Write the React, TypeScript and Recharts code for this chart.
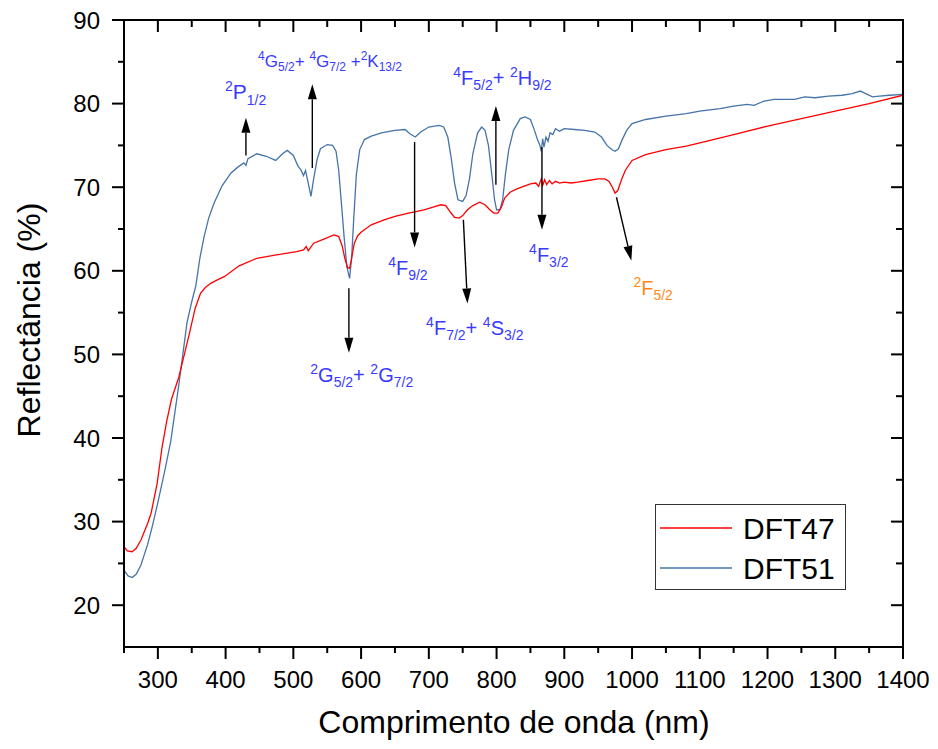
import React from 'react';
import { LineChart, Line, XAxis, YAxis, ReferenceLine, ReferenceDot, Legend, Label } from 'recharts';

const FONT = 'Liberation Sans, Arial, Helvetica, sans-serif';
const BLUE_LINE = '#4674a8';
const RED_LINE = '#ff0000';
const LABEL_BLUE = '#3a3aff';
const LABEL_ORANGE = '#ff8a1a';

// DFT47 (red): [wavelength nm, reflectance %]
const dft47: [number, number][] = [
  [250, 27], [255, 26.5], [262, 26.4], [268, 26.8], [275, 27.8], [285, 29.8], [290, 31], [299, 34.6],
  [306, 38.8], [313, 42], [320, 44.6], [331, 47.3], [340, 50.3], [346, 52.3], [355, 55.5], [363, 57.3],
  [370, 58], [378, 58.5], [390, 59], [398, 59.3], [420, 60.6], [446, 61.5], [475, 61.9], [505, 62.3],
  [515, 62.5], [519, 62.9], [522, 62.4], [530, 63.3], [545, 63.8], [560, 64.3], [567, 64.1],
  [572, 63], [576, 61.5], [580, 60.4], [583, 60.3], [586, 61.5], [590, 63.3], [595, 64.2], [600, 64.6],
  [615, 65.5], [634, 66.1], [650, 66.5], [670, 66.9], [693, 67.3], [705, 67.6], [718, 67.9], [725, 67.8],
  [732, 67], [738, 66.4], [745, 66.3], [750, 66.6], [757, 67.3], [765, 67.8], [775, 68.2], [783, 67.9],
  [790, 67.3], [796, 66.9], [802, 66.9], [807, 67.6], [812, 68.7], [820, 69.4], [830, 69.8], [840, 70.1],
  [850, 70.4], [858, 70.5], [862, 70.1], [866, 71], [868, 70.2], [871, 70.9], [874, 70.3], [878, 70.8],
  [882, 70.4], [887, 70.7], [893, 70.5], [900, 70.6], [910, 70.5], [920, 70.6], [935, 70.8], [950, 71],
  [960, 71], [966, 70.7], [971, 70], [975, 69.3], [979, 69.6], [984, 70.8], [990, 72], [1000, 73.2],
  [1020, 73.9], [1050, 74.5], [1080, 74.9], [1100, 75.3], [1150, 76.3], [1200, 77.3], [1250, 78.2],
  [1300, 79.1], [1350, 80], [1400, 81],
];

// DFT51 (blue): [wavelength nm, reflectance %]
const dft51: [number, number][] = [
  [250, 24.2], [256, 23.5], [262, 23.3], [268, 23.7], [275, 24.8], [285, 27.3], [292, 29.5], [300, 32.3],
  [310, 36], [319, 39.6], [331, 46.4], [343, 53.8], [350, 56.3], [356, 58.2], [362, 61.5], [368, 64],
  [375, 66.3], [383, 68.1], [395, 70.2], [408, 71.7], [418, 72.4], [427, 72.9], [430, 72.6], [433, 73.4],
  [446, 74], [460, 73.7], [474, 73.2], [484, 74], [491, 74.4], [500, 73.8], [507, 72.5], [511, 72.1],
  [515, 71.4], [518, 72], [522, 70.5], [526, 68.9], [530, 71], [535, 73.3], [540, 74.6],
  [550, 75.1], [558, 75], [563, 74.3], [567, 72], [571, 68], [575, 64], [579, 60.5],
  [583, 59.1], [586, 61.5], [589, 66], [593, 71.5], [598, 74.5], [605, 75.7], [615, 76.1], [630, 76.5],
  [650, 76.8], [665, 76.9], [672, 76.4], [680, 76], [688, 76.6], [700, 77.2], [715, 77.4], [722, 77.2],
  [728, 76], [733, 73.5], [738, 70.5], [743, 68.5], [750, 68.3], [755, 69], [760, 71], [765, 74],
  [772, 76.5], [778, 77.2], [783, 76.8], [788, 75], [793, 71.5], [797, 68.5], [800, 67.3], [805, 67.3],
  [809, 68.5], [813, 71.5], [818, 74.5], [825, 76.8], [835, 78.2], [842, 78.4], [850, 78.1], [856, 76.8],
  [860, 75.8], [864, 75], [866, 74.3], [868, 75.8], [870, 74.8], [873, 76], [876, 75.5], [879, 76.5],
  [883, 76.3], [887, 77], [893, 76.7], [900, 77], [915, 76.9], [930, 76.8], [945, 76.6], [955, 76],
  [963, 75], [970, 74.5], [975, 74.3], [980, 74.6], [985, 75.6], [992, 76.8], [1000, 77.6], [1020, 78.1],
  [1050, 78.5], [1080, 78.8], [1100, 79.1], [1130, 79.4], [1150, 79.7], [1170, 79.9], [1180, 79.8],
  [1195, 80.3], [1210, 80.5], [1240, 80.5], [1255, 80.8], [1270, 80.7], [1290, 80.9], [1310, 81],
  [1325, 81.2], [1337, 81.5], [1345, 81.2], [1355, 80.8], [1365, 80.9], [1380, 81], [1400, 81.1],
];

const xTicks = [250, 300, 350, 400, 450, 500, 550, 600, 650, 700, 750, 800, 850, 900, 950, 1000, 1050, 1100, 1150, 1200, 1250, 1300, 1350, 1400];
const xMajor = [300, 400, 500, 600, 700, 800, 900, 1000, 1100, 1200, 1300, 1400];
const yTicks = [20, 25, 30, 35, 40, 45, 50, 55, 60, 65, 70, 75, 80, 85, 90];
const yMajor = [20, 30, 40, 50, 60, 70, 80, 90];
const X_MIN = 250;
const X_MAX = 1400;
const Y_MIN = 15;
const Y_MAX = 90;

// chart layout
const W = 938;
const H = 749;
const MARGIN = { top: 20, right: 35, bottom: 42, left: 64 };
const Y_AXIS_W = 60;
const X_AXIS_H = 60;
const PLOT_L = MARGIN.left + Y_AXIS_W;
const PLOT_R = W - MARGIN.right;
const PLOT_T = MARGIN.top;
const PLOT_B = H - MARGIN.bottom - X_AXIS_H;

type Seg = [string, 'n' | 'sup' | 'sub'];

// arrows: [fromX, fromY, toX, toY] in data units
const arrows: [number, number, number, number][] = [
  [430, 73.8, 430, 78.3],
  [528, 72.3, 528, 82.3],
  [679, 75.4, 679, 62.8],
  [582, 57.9, 582, 50.2],
  [751, 66.1, 757, 56.1],
  [799, 70.3, 799, 79.7],
  [867, 74.8, 867, 64.9],
  [977, 68.8, 999, 61.2],
];

// labels: baseline position in data units, text segments, sizes, colour
const labels: { x: number; y: number; segs: Seg[]; big: number; small: number; color: string }[] = [
  { x: 399, y: 80.5, segs: [['2', 'sup'], ['P', 'n'], ['1/2', 'sub']], big: 21, small: 14, color: LABEL_BLUE },
  { x: 448, y: 84.4, segs: [['4', 'sup'], ['G', 'n'], ['5/2', 'sub'], ['+ ', 'n'], ['4', 'sup'], ['G', 'n'], ['7/2', 'sub'], [' +', 'n'], ['2', 'sup'], ['K', 'n'], ['13/2', 'sub']], big: 17, small: 12, color: LABEL_BLUE },
  { x: 736, y: 82.2, segs: [['4', 'sup'], ['F', 'n'], ['5/2', 'sub'], ['+ ', 'n'], ['2', 'sup'], ['H', 'n'], ['9/2', 'sub']], big: 20, small: 14, color: LABEL_BLUE },
  { x: 640, y: 59.5, segs: [['4', 'sup'], ['F', 'n'], ['9/2', 'sub']], big: 20, small: 14, color: LABEL_BLUE },
  { x: 525, y: 46.7, segs: [['2', 'sup'], ['G', 'n'], ['5/2', 'sub'], ['+ ', 'n'], ['2', 'sup'], ['G', 'n'], ['7/2', 'sub']], big: 20, small: 14, color: LABEL_BLUE },
  { x: 696, y: 52.3, segs: [['4', 'sup'], ['F', 'n'], ['7/2', 'sub'], ['+ ', 'n'], ['4', 'sup'], ['S', 'n'], ['3/2', 'sub']], big: 20, small: 14, color: LABEL_BLUE },
  { x: 848, y: 61.0, segs: [['4', 'sup'], ['F', 'n'], ['3/2', 'sub']], big: 20, small: 14, color: LABEL_BLUE },
  { x: 1002, y: 57.1, segs: [['2', 'sup'], ['F', 'n'], ['5/2', 'sub']], big: 20, small: 14, color: LABEL_ORANGE },
];

const data47 = dft47.map(([w, v]) => ({ w, v }));
const data51 = dft51.map(([w, v]) => ({ w, v }));

const RichText = ({ x, y, segs, big, small, color }: any) => {
  let cur = 0;
  return (
    <text x={x} y={y} fill={color} fontFamily={FONT} fontSize={big}>
      {segs.map(([t, k]: Seg, i: number) => {
        const target = k === 'sup' ? -0.42 * big : k === 'sub' ? 0.25 * big : 0;
        const dy = target - cur;
        cur = target;
        return (
          <tspan key={i} dy={dy} fontSize={k === 'n' ? big : small} style={{ whiteSpace: 'pre' }}>
            {t}
          </tspan>
        );
      })}
    </text>
  );
};

const ArrowShape = (p: any) => {
  const { x1, y1, x2, y2 } = p;
  const dx = x2 - x1;
  const dy = y2 - y1;
  const len = Math.hypot(dx, dy) || 1;
  const ux = dx / len;
  const uy = dy / len;
  const L = 15;
  const HW = 4.5;
  const bx = x2 - ux * L;
  const by = y2 - uy * L;
  const pts = `${x2},${y2} ${bx - uy * HW},${by + ux * HW} ${bx + uy * HW},${by - ux * HW}`;
  return (
    <g>
      <line x1={x1} y1={y1} x2={bx} y2={by} stroke="#000" strokeWidth={1.4} />
      <polygon points={pts} fill="#000" />
    </g>
  );
};

// top + right frame edges with inward ticks (mirrors of the bottom/left axes)
const FrameLines = () => {
  const sx = (v: number) => PLOT_L + ((v - X_MIN) / (X_MAX - X_MIN)) * (PLOT_R - PLOT_L);
  const sy = (v: number) => PLOT_T + ((Y_MAX - v) / (Y_MAX - Y_MIN)) * (PLOT_B - PLOT_T);
  return (
    <g>
      <rect x={PLOT_L - 1} y={PLOT_T - 1} width={PLOT_R - PLOT_L + 2} height={2} fill="#000" />
      <rect x={PLOT_R - 1} y={PLOT_T - 1} width={2} height={PLOT_B - PLOT_T + 2} fill="#000" />
      {xTicks.map((t) => (
        <rect key={'t' + t} x={sx(t) - 1} y={PLOT_T} width={2} height={xMajor.includes(t) ? 12 : 7} fill="#000" />
      ))}
      {yTicks.map((t) => {
        const len = yMajor.includes(t) ? 12 : 7;
        return <rect key={'r' + t} x={PLOT_R - len} y={sy(t) - 1} width={len} height={2} fill="#000" />;
      })}
    </g>
  );
};

const BottomTick = (p: any) => {
  const { x, y, payload } = p;
  const major = xMajor.includes(payload.value);
  return (
    <g>
      <line x1={x} y1={y} x2={x} y2={y + (major ? 12 : 6)} stroke="#000" strokeWidth={2} />
      {major && (
        <text x={x} y={y + 41} textAnchor="middle" fontFamily={FONT} fontSize={24} fill="#000">
          {payload.value}
        </text>
      )}
    </g>
  );
};

const LeftTick = (p: any) => {
  const { x, y, payload } = p;
  const major = yMajor.includes(payload.value);
  return (
    <g>
      <line x1={x} y1={y} x2={x - (major ? 12 : 6)} y2={y} stroke="#000" strokeWidth={2} />
      {major && (
        <text x={x - 24} y={y + 8.5} textAnchor="end" fontFamily={FONT} fontSize={24} fill="#000">
          {payload.value}
        </text>
      )}
    </g>
  );
};

const LegendBox = () => (
  <div style={{ width: 191, height: 86, border: '1px solid #333', boxSizing: 'border-box', background: '#fff' }}>
    <svg width={189} height={84} style={{ display: 'block' }}>
      <line x1={4} y1={23} x2={76} y2={23} stroke={RED_LINE} strokeWidth={1.4} />
      <line x1={4} y1={63} x2={76} y2={63} stroke={BLUE_LINE} strokeWidth={1.4} />
      <text x={87} y={34} fontFamily={FONT} fontSize={30} fill="#000">DFT47</text>
      <text x={87} y={74} fontFamily={FONT} fontSize={30} fill="#000">DFT51</text>
    </svg>
  </div>
);

export default function App() {
  return (
    <div style={{ position: 'absolute', left: 0, top: 0, width: W, height: H, background: '#fff' }}>
      <LineChart width={W} height={H} margin={MARGIN}>
        <XAxis
          dataKey="w"
          type="number"
          domain={[X_MIN, X_MAX]}
          allowDataOverflow
          ticks={xTicks}
          interval={0}
          height={X_AXIS_H}
          tickSize={0}
          tickMargin={0}
          tickLine={false}
          axisLine={{ stroke: '#000', strokeWidth: 2 }}
          tick={<BottomTick />}
        >
          <Label
            content={() => (
              <text x={514} y={733} textAnchor="middle" fontFamily={FONT} fontSize={32} fill="#000">
                Comprimento de onda (nm)
              </text>
            )}
          />
        </XAxis>
        <YAxis
          type="number"
          domain={[Y_MIN, Y_MAX]}
          allowDataOverflow
          ticks={yTicks}
          interval={0}
          width={Y_AXIS_W}
          tickSize={0}
          tickMargin={0}
          tickLine={false}
          axisLine={{ stroke: '#000', strokeWidth: 2 }}
          tick={<LeftTick />}
        >
          <Label
            content={() => (
              <text
                x={29}
                y={320}
                transform="rotate(-90, 29, 320)"
                textAnchor="middle"
                dominantBaseline="central"
                fontFamily={FONT}
                fontSize={32}
                fill="#000"
              >
                Reflectância (%)
              </text>
            )}
          />
        </YAxis>
        <Line
          data={data51}
          dataKey="v"
          name="DFT51"
          type="linear"
          stroke={BLUE_LINE}
          strokeWidth={1.3}
          dot={false}
          isAnimationActive={false}
        />
        <Line
          data={data47}
          dataKey="v"
          name="DFT47"
          type="linear"
          stroke={RED_LINE}
          strokeWidth={1.3}
          dot={false}
          isAnimationActive={false}
        />
        {arrows.map(([ax, ay, bx, by], i) => (
          <ReferenceLine
            key={'a' + i}
            segment={[{ x: ax, y: ay }, { x: bx, y: by }]}
            ifOverflow="visible"
            shape={(p: any) => <ArrowShape {...p} />}
          />
        ))}
        {labels.map((l, i) => (
          <ReferenceDot
            key={'l' + i}
            x={l.x}
            y={l.y}
            r={0}
            ifOverflow="visible"
            shape={(p: any) => (
              <RichText x={p.cx} y={p.cy} segs={l.segs} big={l.big} small={l.small} color={l.color} />
            )}
          />
        ))}
        <Legend
          layout="horizontal"
          verticalAlign="middle"
          align="center"
          content={() => <LegendBox />}
          wrapperStyle={{ position: 'absolute', left: 655, top: 504, width: 191, height: 86 }}
        />
      </LineChart>
      <svg
        width={W}
        height={H}
        style={{ position: 'absolute', left: 0, top: 0, pointerEvents: 'none', overflow: 'visible' }}
      >
        <FrameLines />
      </svg>
    </div>
  );
}
